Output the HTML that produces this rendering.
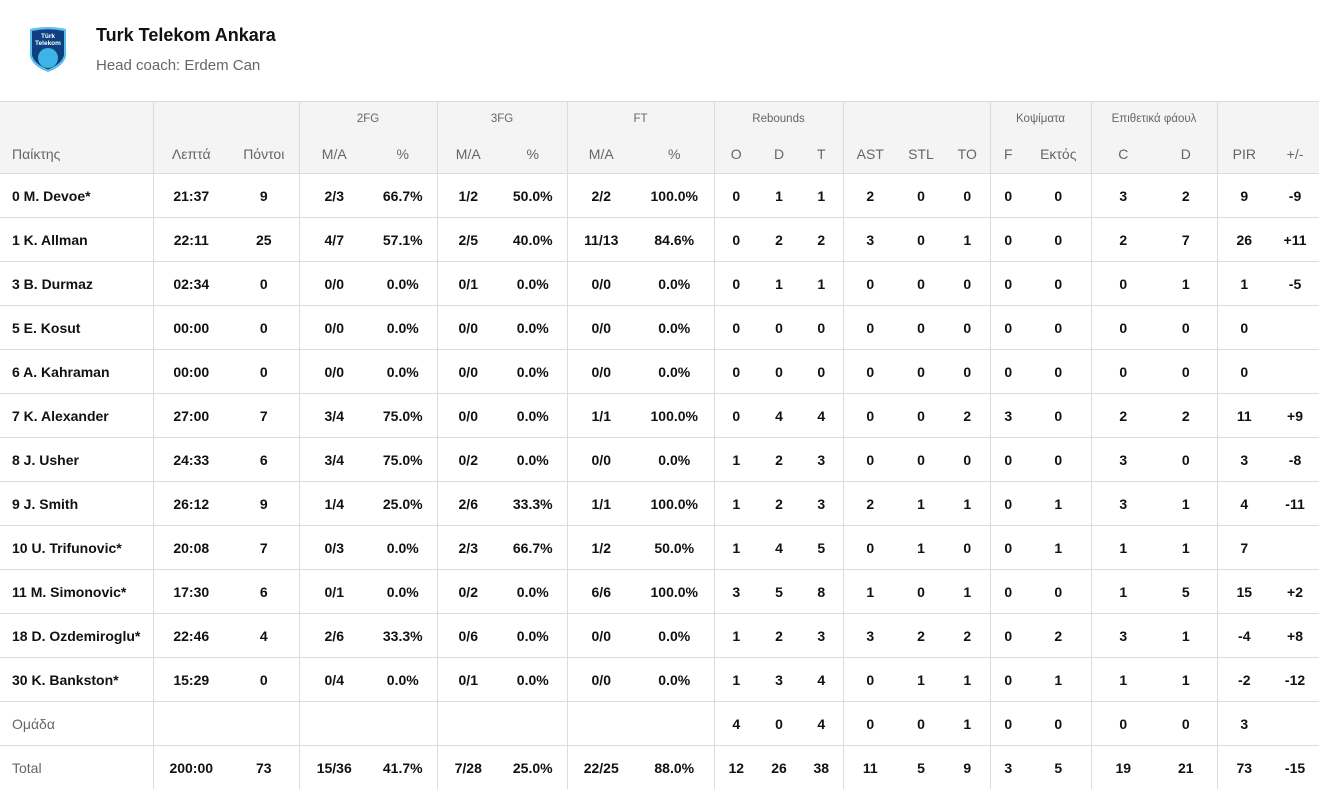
<!DOCTYPE html>
<html><head><meta charset="utf-8"><style>
body{margin:0;width:1319px;height:790px;overflow:hidden;background:#fff;font-family:"Liberation Sans",sans-serif;color:#111;}
.logo{position:absolute;left:28px;top:26px;}
.t1{position:absolute;left:96px;top:25px;font-size:18px;font-weight:bold;color:#111;}
.t2{position:absolute;left:96px;top:57px;font-size:15px;color:#666;}
table{position:absolute;left:0;top:101px;border-collapse:collapse;table-layout:fixed;width:1319px;}
td{padding:0;text-align:center;font-size:14px;font-weight:bold;height:43px;border-bottom:1px solid #dcdcdc;white-space:nowrap;}
td:first-child{text-align:left;padding-left:12px;}
thead td{background:#f4f4f4;color:#666;font-weight:normal;}
tr.h1 td{height:33px;font-size:11.5px;border-top:1px solid #dcdcdc;border-bottom:none;vertical-align:middle;}
tr.h2 td{height:38px;font-size:14px;}
.b{border-right:1px solid #dcdcdc;}
td.g{color:#666;font-weight:normal;}
tr.last td{border-bottom:none;}
</style></head><body>
<svg class="logo" width="40" height="48" viewBox="0 0 40 48">
<path d="M2 3 Q20 -1 38 3 L38 30 Q36 40 20 46 Q4 40 2 30 Z" fill="#5bc0ea"/>
<path d="M4 5 Q20 1.5 36 5 L36 29 Q34 38 20 43.5 Q6 38 4 29 Z" fill="#0e3f80"/>
<circle cx="20" cy="32" r="10" fill="#3fb3e6"/>
<text x="20" y="12" font-size="6.5" fill="#fff" text-anchor="middle" font-family="Liberation Sans" font-weight="bold">Türk</text>
<text x="20" y="19" font-size="6.5" fill="#fff" text-anchor="middle" font-family="Liberation Sans" font-weight="bold">Telekom</text>
</svg>
<div class="t1">Turk Telekom Ankara</div>
<div class="t2">Head coach: Erdem Can</div>
<table>
<colgroup><col style="width:153px"><col style="width:76px"><col style="width:70px"><col style="width:70px"><col style="width:68px"><col style="width:62px"><col style="width:68px"><col style="width:68px"><col style="width:79px"><col style="width:44px"><col style="width:42px"><col style="width:43px"><col style="width:54px"><col style="width:48px"><col style="width:45px"><col style="width:36px"><col style="width:65px"><col style="width:64px"><col style="width:62px"><col style="width:54px"><col style="width:48px"></colgroup>
<thead>
<tr class="h1"><td class="b"></td><td colspan="2" class="b"></td><td colspan="2" class="b" style="text-align:center">2FG</td><td colspan="2" class="b">3FG</td><td colspan="2" class="b">FT</td><td colspan="3" class="b">Rebounds</td><td colspan="3" class="b"></td><td colspan="2" class="b">Κοψίματα</td><td colspan="2" class="b">Επιθετικά φάουλ</td><td colspan="2"></td></tr>
<tr class="h2"><td class="b">Παίκτης</td><td>Λεπτά</td><td class="b">Πόντοι</td><td>M/A</td><td class="b">%</td><td>M/A</td><td class="b">%</td><td>M/A</td><td class="b">%</td><td>O</td><td>D</td><td class="b">T</td><td>AST</td><td>STL</td><td class="b">TO</td><td>F</td><td class="b">Εκτός</td><td>C</td><td class="b">D</td><td>PIR</td><td>+/-</td></tr>
</thead>
<tbody>
<tr><td class="b">0 M. Devoe*</td><td>21:37</td><td class="b">9</td><td>2/3</td><td class="b">66.7%</td><td>1/2</td><td class="b">50.0%</td><td>2/2</td><td class="b">100.0%</td><td>0</td><td>1</td><td class="b">1</td><td>2</td><td>0</td><td class="b">0</td><td>0</td><td class="b">0</td><td>3</td><td class="b">2</td><td>9</td><td>-9</td></tr>
<tr><td class="b">1 K. Allman</td><td>22:11</td><td class="b">25</td><td>4/7</td><td class="b">57.1%</td><td>2/5</td><td class="b">40.0%</td><td>11/13</td><td class="b">84.6%</td><td>0</td><td>2</td><td class="b">2</td><td>3</td><td>0</td><td class="b">1</td><td>0</td><td class="b">0</td><td>2</td><td class="b">7</td><td>26</td><td>+11</td></tr>
<tr><td class="b">3 B. Durmaz</td><td>02:34</td><td class="b">0</td><td>0/0</td><td class="b">0.0%</td><td>0/1</td><td class="b">0.0%</td><td>0/0</td><td class="b">0.0%</td><td>0</td><td>1</td><td class="b">1</td><td>0</td><td>0</td><td class="b">0</td><td>0</td><td class="b">0</td><td>0</td><td class="b">1</td><td>1</td><td>-5</td></tr>
<tr><td class="b">5 E. Kosut</td><td>00:00</td><td class="b">0</td><td>0/0</td><td class="b">0.0%</td><td>0/0</td><td class="b">0.0%</td><td>0/0</td><td class="b">0.0%</td><td>0</td><td>0</td><td class="b">0</td><td>0</td><td>0</td><td class="b">0</td><td>0</td><td class="b">0</td><td>0</td><td class="b">0</td><td>0</td><td></td></tr>
<tr><td class="b">6 A. Kahraman</td><td>00:00</td><td class="b">0</td><td>0/0</td><td class="b">0.0%</td><td>0/0</td><td class="b">0.0%</td><td>0/0</td><td class="b">0.0%</td><td>0</td><td>0</td><td class="b">0</td><td>0</td><td>0</td><td class="b">0</td><td>0</td><td class="b">0</td><td>0</td><td class="b">0</td><td>0</td><td></td></tr>
<tr><td class="b">7 K. Alexander</td><td>27:00</td><td class="b">7</td><td>3/4</td><td class="b">75.0%</td><td>0/0</td><td class="b">0.0%</td><td>1/1</td><td class="b">100.0%</td><td>0</td><td>4</td><td class="b">4</td><td>0</td><td>0</td><td class="b">2</td><td>3</td><td class="b">0</td><td>2</td><td class="b">2</td><td>11</td><td>+9</td></tr>
<tr><td class="b">8 J. Usher</td><td>24:33</td><td class="b">6</td><td>3/4</td><td class="b">75.0%</td><td>0/2</td><td class="b">0.0%</td><td>0/0</td><td class="b">0.0%</td><td>1</td><td>2</td><td class="b">3</td><td>0</td><td>0</td><td class="b">0</td><td>0</td><td class="b">0</td><td>3</td><td class="b">0</td><td>3</td><td>-8</td></tr>
<tr><td class="b">9 J. Smith</td><td>26:12</td><td class="b">9</td><td>1/4</td><td class="b">25.0%</td><td>2/6</td><td class="b">33.3%</td><td>1/1</td><td class="b">100.0%</td><td>1</td><td>2</td><td class="b">3</td><td>2</td><td>1</td><td class="b">1</td><td>0</td><td class="b">1</td><td>3</td><td class="b">1</td><td>4</td><td>-11</td></tr>
<tr><td class="b">10 U. Trifunovic*</td><td>20:08</td><td class="b">7</td><td>0/3</td><td class="b">0.0%</td><td>2/3</td><td class="b">66.7%</td><td>1/2</td><td class="b">50.0%</td><td>1</td><td>4</td><td class="b">5</td><td>0</td><td>1</td><td class="b">0</td><td>0</td><td class="b">1</td><td>1</td><td class="b">1</td><td>7</td><td></td></tr>
<tr><td class="b">11 M. Simonovic*</td><td>17:30</td><td class="b">6</td><td>0/1</td><td class="b">0.0%</td><td>0/2</td><td class="b">0.0%</td><td>6/6</td><td class="b">100.0%</td><td>3</td><td>5</td><td class="b">8</td><td>1</td><td>0</td><td class="b">1</td><td>0</td><td class="b">0</td><td>1</td><td class="b">5</td><td>15</td><td>+2</td></tr>
<tr><td class="b">18 D. Ozdemiroglu*</td><td>22:46</td><td class="b">4</td><td>2/6</td><td class="b">33.3%</td><td>0/6</td><td class="b">0.0%</td><td>0/0</td><td class="b">0.0%</td><td>1</td><td>2</td><td class="b">3</td><td>3</td><td>2</td><td class="b">2</td><td>0</td><td class="b">2</td><td>3</td><td class="b">1</td><td>-4</td><td>+8</td></tr>
<tr><td class="b">30 K. Bankston*</td><td>15:29</td><td class="b">0</td><td>0/4</td><td class="b">0.0%</td><td>0/1</td><td class="b">0.0%</td><td>0/0</td><td class="b">0.0%</td><td>1</td><td>3</td><td class="b">4</td><td>0</td><td>1</td><td class="b">1</td><td>0</td><td class="b">1</td><td>1</td><td class="b">1</td><td>-2</td><td>-12</td></tr>
<tr><td class="b g">Ομάδα</td><td></td><td class="b"></td><td></td><td class="b"></td><td></td><td class="b"></td><td></td><td class="b"></td><td>4</td><td>0</td><td class="b">4</td><td>0</td><td>0</td><td class="b">1</td><td>0</td><td class="b">0</td><td>0</td><td class="b">0</td><td>3</td><td></td></tr>
<tr class="last"><td class="b g">Total</td><td>200:00</td><td class="b">73</td><td>15/36</td><td class="b">41.7%</td><td>7/28</td><td class="b">25.0%</td><td>22/25</td><td class="b">88.0%</td><td>12</td><td>26</td><td class="b">38</td><td>11</td><td>5</td><td class="b">9</td><td>3</td><td class="b">5</td><td>19</td><td class="b">21</td><td>73</td><td>-15</td></tr>
</tbody></table>
</body></html>
